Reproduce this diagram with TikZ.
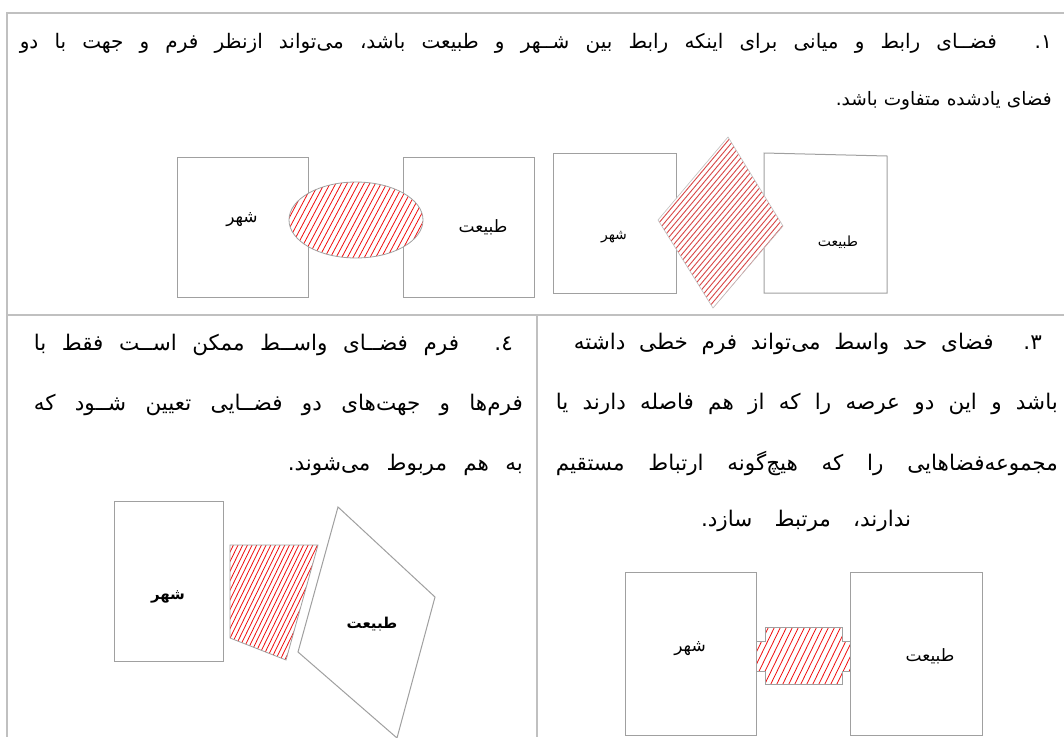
\documentclass[tikz,border=0pt]{standalone}
\usepackage{fontspec}
\newfontfamily\fa[Script=Arabic]{DejaVu Sans}
\TeXXeTstate=1
\definecolor{gridgray}{HTML}{C0C0C0}
\definecolor{boxgray}{HTML}{A0A0A0}
\definecolor{hatchred}{HTML}{F01010}
\definecolor{hatchpink}{HTML}{D84848}
\newcommand\hatchlines[6]{% cx, cy, angle, spacing, count, style
  \foreach \i in {-#5,...,#5}{
    \draw[#6] ({#1+\i*#4*sin(#3)-300*cos(#3)},{#2+\i*#4*cos(#3)+300*sin(#3)}) --
              ({#1+\i*#4*sin(#3)+300*cos(#3)},{#2+\i*#4*cos(#3)-300*sin(#3)});
  }}
% size, width, text : justified line
\newcommand\faline[3]{\fa\fontsize{#1}{#1}\selectfont\makebox[#2pt][s]{#3}}
% size, text : natural line
\newcommand\fatext[2]{\fa\fontsize{#1}{#1}\selectfont #2}
\begin{document}
\begin{tikzpicture}[x=1pt,y=-1pt,
  gridline/.style={draw=gridgray, line width=2pt},
  box/.style={draw=boxgray, line width=1pt, fill=white},
  outline/.style={draw=boxgray, line width=0.8pt},
  hatch/.style={draw=hatchred, line width=0.8pt},
  hatchp/.style={draw=hatchpink, line width=0.9pt},
  txt/.style={inner sep=0pt, anchor=east},
  lbl/.style={inner sep=0pt}]
\useasboundingbox (0,0) rectangle (1064,737);
\fill[white] (0,0) rectangle (1064,737);

% table rules
\coordinate (tl) at (7,13);
\coordinate (tr) at (1064,13);
\coordinate (bl) at (7,737);
\coordinate (ml) at (7,315);
\coordinate (mr) at (1064,315);
\coordinate (mt) at (537,315);
\coordinate (mb) at (537,737);
\draw[gridline] (tr) -- (tl) -- (bl);
\draw[gridline] (ml) -- (mr);
\draw[gridline] (mt) -- (mb);

% ---- top cell text
\node[txt] (t1) at (1052,43) {\faline{20}{1032}{\beginR ۱. فضــای رابط و میانی برای اینکه رابط بین شــهر و طبیعت باشد، می‌تواند ازنظر فرم و جهت با دو\endR}};
\node[txt] (t2) at (1052,101) {\faline{18.5}{216}{\beginR فضای یادشده متفاوت باشد.\endR}};

% ---- diagram 1
\node[box, minimum width=131pt, minimum height=140pt, inner sep=0pt] (city1) at (242.5,227) {};
\node[box, minimum width=131pt, minimum height=140pt, inner sep=0pt] (nat1) at (468.5,227) {};
\fill[white] (356,220) ellipse [x radius=67, y radius=38];
\begin{scope}
  \clip (356,220) ellipse [x radius=67, y radius=38];
  \hatchlines{356}{220}{62}{5.0}{20}{hatch}
\end{scope}
\draw[outline] (356,220) ellipse [x radius=67, y radius=38];
\node[lbl] (lc1) at (242,220) {\fatext{17}{\beginR شهر\endR}};
\node[lbl] (ln1) at (483,227) {\fatext{17}{\beginR طبیعت\endR}};

% ---- diagram 2
\node[box, minimum width=123pt, minimum height=140pt, inner sep=0pt] (city2) at (614.5,223) {};
\draw[box] (764,153) -- (887,156) -- (887,293) -- (764,293) -- cycle;
\fill[white] (728,137) -- (783,226) -- (713,308) -- (658,220) -- cycle;
\begin{scope}
  \clip (728,137) -- (783,226) -- (713,308) -- (658,220) -- cycle;
  \hatchlines{720}{222}{50}{4.2}{30}{hatchp}
\end{scope}
\draw[draw=gridgray, line width=0.6pt] (728,137) -- (783,226) -- (713,308) -- (658,220) -- cycle;
\node[lbl] (lc2) at (614,237) {\fatext{14}{\beginR شهر\endR}};
\node[lbl] (ln2) at (838,242) {\fatext{14}{\beginR طبیعت\endR}};

% ---- bottom-left cell text (4)
\node[txt] (f1) at (513,345) {\faline{21.5}{479}{\beginR ٤. فرم فضــای واســط ممکن اســت فقط با\endR}};
\node[txt] (f2) at (523,405) {\faline{21.5}{489}{\beginR فرم‌ها و جهت‌های دو فضــایی تعیین شــود که\endR}};
\node[txt] (f3) at (523,465) {\faline{21.5}{235}{\beginR به هم مربوط می‌شوند.\endR}};

% ---- diagram 4
\node[box, minimum width=109pt, minimum height=160pt, inner sep=0pt] (city4) at (168.5,581) {};
\fill[white] (230,545) -- (318,545) -- (286,660) -- (230,638) -- cycle;
\begin{scope}
  \clip (230,545) -- (318,545) -- (286,660) -- (230,638) -- cycle;
  \hatchlines{272}{600}{64}{4.2}{24}{hatch}
\end{scope}
\draw[outline] (230,545) -- (318,545) -- (286,660) -- (230,638) -- cycle;
\draw[box] (338,507) -- (435,597) -- (397,738) -- (298,652) -- cycle;
\node[lbl] (lc4) at (168,597) {\fatext{15}{\bfseries\beginR شهر\endR}};
\node[lbl] (ln4) at (372,624) {\fatext{15}{\bfseries\beginR طبیعت\endR}};

% ---- bottom-right cell text (3)
\node[txt] (s1) at (1042,344) {\faline{21.5}{468}{\beginR ۳. فضای حد واسط می‌تواند فرم خطی داشته\endR}};
\node[txt] (s2) at (1058,404) {\faline{21.5}{502}{\beginR باشد و این دو عرصه را که از هم فاصله دارند یا\endR}};
\node[txt] (s3) at (1058,463) {\faline{21.5}{502}{\beginR مجموعه‌فضاهایی را که هیچ‌گونه ارتباط مستقیم\endR}};
\node[lbl] (s4) at (806,521) {\faline{21.5}{210}{\beginR ندارند، مرتبط سازد.\endR}};

% ---- diagram 3
\draw[box] (625,735) -- (625,572) -- (756,572) -- (756,735) -- cycle;
\draw[box] (850,735) -- (850,572) -- (982,572) -- (982,735) -- cycle;
\fill[white] (756,641) -- (765,641) -- (765,627) -- (842,627) -- (842,641) -- (850,641) -- (850,671) -- (842,671) -- (842,684) -- (765,684) -- (765,671) -- (756,671) -- cycle;
\begin{scope}
  \clip (756,641) -- (765,641) -- (765,627) -- (842,627) -- (842,641) -- (850,641) -- (850,671) -- (842,671) -- (842,684) -- (765,684) -- (765,671) -- (756,671) -- cycle;
  \hatchlines{803}{655}{64}{5.4}{18}{hatch}
\end{scope}
\draw[outline] (756,641) -- (765,641) -- (765,627) -- (842,627) -- (842,641) -- (850,641) -- (850,671) -- (842,671) -- (842,684) -- (765,684) -- (765,671) -- (756,671) -- cycle;
\node[lbl] (lc3) at (690,649) {\fatext{17}{\beginR شهر\endR}};
\node[lbl] (ln3) at (930,656) {\fatext{17}{\beginR طبیعت\endR}};
\end{tikzpicture}
\end{document}
